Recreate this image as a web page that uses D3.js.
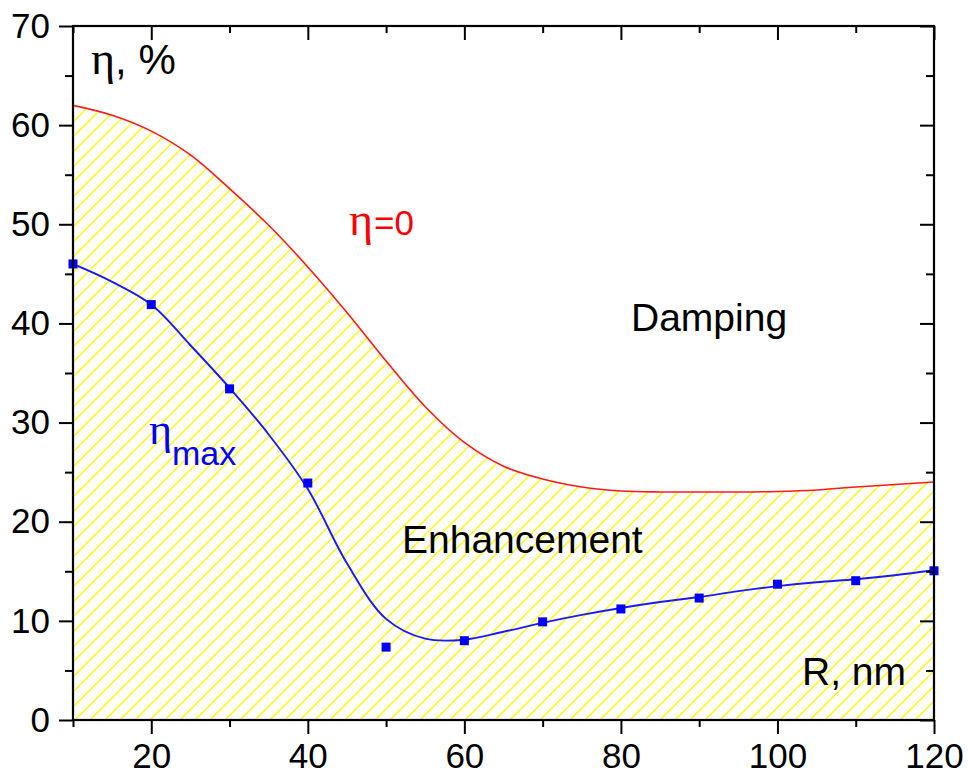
<!DOCTYPE html>
<html>
<head>
<meta charset="utf-8">
<script src="https://cdn.jsdelivr.net/npm/d3@7"></script>
<style>
  html, body { margin: 0; padding: 0; background: #fff; }
  svg { display: block; font-family: "Liberation Sans", Arial, sans-serif; }
</style>
</head>
<body>
<svg id="chart" width="968" height="779"></svg>
<script>
// Particle radius R (nm) sampled every 5 nm for the two boundary curves
const radius = [10, 15, 20, 25, 30, 35, 40, 45, 50, 55, 60, 65, 70, 75, 80, 85, 90, 95, 100, 105, 110, 115, 120];
// η = 0 boundary between enhancement and damping (%)
const etaZero = [62.0, 61.0, 59.4, 57.0, 53.6, 49.9, 45.7, 41.1, 36.2, 31.6, 28.0, 25.6, 24.3, 23.5, 23.1, 23.0, 23.0, 23.0, 23.05, 23.2, 23.5, 23.75, 24.0];
// smooth fit through the η_max points (%)
const etaMaxFit = [46.0, 44.2, 41.9, 37.8, 33.5, 28.8, 23.3, 15.8, 10.2, 8.2, 8.1, 8.9, 9.8, 10.6, 11.3, 11.9, 12.4, 13.0, 13.5, 13.9, 14.2, 14.6, 15.1];
// computed η_max values
const pointRadius = [10, 20, 30, 40, 50, 60, 70, 80, 90, 100, 110, 120];
const etaMaxPoints = [46.0, 41.9, 33.4, 23.9, 7.35, 8.0, 9.9, 11.2, 12.3, 13.7, 14.05, 15.05];

// axis ticks
const xMajor = [20, 40, 60, 80, 100, 120];
const xMinor = [10, 30, 50, 70, 90, 110];
const yMajor = [0, 10, 20, 30, 40, 50, 60, 70];
const yMinor = [5, 15, 25, 35, 45, 55, 65];

const svg = d3.select("#chart");
const plotLeft = 73, plotRight = 934, plotTop = 26, plotBottom = 720;

const x = d3.scaleLinear().domain([10, 120]).range([plotLeft, plotRight]);
const y = d3.scaleLinear().domain([0, 70]).range([plotBottom, plotTop]);

// diagonal hatch fill
const hs = 15;
const defs = svg.append("defs");
const hatch = defs.append("pattern")
  .attr("id", "hatch")
  .attr("patternUnits", "userSpaceOnUse")
  .attr("width", hs).attr("height", hs);
hatch.append("path")
  .attr("d", `M-2,2 L2,-2 M0,${hs} L${hs},0 M${hs - 2},${hs + 2} L${hs + 2},${hs - 2}`)
  .attr("stroke", "#ffff00")
  .attr("stroke-width", 1.4)
  .attr("fill", "none");

defs.append("clipPath").attr("id", "plot-clip")
  .append("rect")
  .attr("x", plotLeft).attr("y", plotTop)
  .attr("width", plotRight - plotLeft).attr("height", plotBottom - plotTop);

const plot = svg.append("g").attr("clip-path", "url(#plot-clip)");

const zeroData = radius.map((r, i) => ({ r, v: etaZero[i] }));
const fitData = radius.map((r, i) => ({ r, v: etaMaxFit[i] }));
const ptData = pointRadius.map((r, i) => ({ r, v: etaMaxPoints[i] }));

const smooth = d3.curveCatmullRom.alpha(0.5);

// enhancement region under the η = 0 curve
plot.append("path")
  .datum(zeroData)
  .attr("fill", "url(#hatch)")
  .attr("d", d3.area()
    .x(d => x(d.r))
    .y0(y(0))
    .y1(d => y(d.v))
    .curve(smooth));

plot.append("path")
  .datum(zeroData)
  .attr("fill", "none")
  .attr("stroke", "#ff1a1a")
  .attr("stroke-width", 1.6)
  .attr("d", d3.line().x(d => x(d.r)).y(d => y(d.v)).curve(smooth));

plot.append("path")
  .datum(fitData)
  .attr("fill", "none")
  .attr("stroke", "#1a1aff")
  .attr("stroke-width", 1.9)
  .attr("d", d3.line().x(d => x(d.r)).y(d => y(d.v)).curve(smooth));

const sq = 9;
svg.append("g").selectAll("rect")
  .data(ptData)
  .join("rect")
  .attr("x", d => x(d.r) - sq / 2)
  .attr("y", d => y(d.v) - sq / 2)
  .attr("width", sq).attr("height", sq)
  .attr("fill", "#0000ff");

// axes
const tickFont = 35;
function styleAxis(g) {
  g.select(".domain").remove();
  g.selectAll(".tick line").attr("stroke", "#000").attr("stroke-width", 2);
  g.selectAll(".tick text").attr("fill", "#000")
    .attr("font-size", tickFont)
    .attr("font-family", "Liberation Sans, Arial, sans-serif");
}

// bottom: majors with labels, minors without
svg.append("g").attr("transform", `translate(0,${plotBottom})`)
  .call(d3.axisBottom(x).tickValues(xMajor).tickSize(14).tickPadding(9).tickFormat(d3.format("d")))
  .call(styleAxis);
svg.append("g").attr("transform", `translate(0,${plotBottom})`)
  .call(d3.axisBottom(x).tickValues(xMinor).tickSize(7).tickFormat(""))
  .call(styleAxis);
// top: inward ticks
svg.append("g").attr("transform", `translate(0,${plotTop})`)
  .call(d3.axisTop(x).tickValues(xMajor).tickSize(-14).tickFormat(""))
  .call(styleAxis);
svg.append("g").attr("transform", `translate(0,${plotTop})`)
  .call(d3.axisTop(x).tickValues(xMinor).tickSize(-7).tickFormat(""))
  .call(styleAxis);
// left
svg.append("g").attr("transform", `translate(${plotLeft},0)`)
  .call(d3.axisLeft(y).tickValues(yMajor).tickSize(14).tickPadding(9).tickFormat(d3.format("d")))
  .call(styleAxis);
svg.append("g").attr("transform", `translate(${plotLeft},0)`)
  .call(d3.axisLeft(y).tickValues(yMinor).tickSize(8).tickFormat(""))
  .call(styleAxis);
// right: inward ticks
svg.append("g").attr("transform", `translate(${plotRight},0)`)
  .call(d3.axisRight(y).tickValues(yMajor).tickSize(-14).tickFormat(""))
  .call(styleAxis);
svg.append("g").attr("transform", `translate(${plotRight},0)`)
  .call(d3.axisRight(y).tickValues(yMinor).tickSize(-8).tickFormat(""))
  .call(styleAxis);

// frame
svg.append("rect")
  .attr("x", plotLeft).attr("y", plotTop)
  .attr("width", plotRight - plotLeft).attr("height", plotBottom - plotTop)
  .attr("fill", "none").attr("stroke", "#000").attr("stroke-width", 2.2);

// labels
const greek = "Liberation Serif, Times New Roman, serif";

const yLab = svg.append("text").attr("x", 91).attr("y", 74).attr("font-size", 42).attr("fill", "#000");
yLab.append("tspan").attr("font-family", greek).attr("font-size", 46).text("η");
yLab.append("tspan").text(", %");

svg.append("text").attr("x", 802).attr("y", 685).attr("font-size", 39).attr("fill", "#000").text("R, nm");

svg.append("text").attr("x", 631).attr("y", 331).attr("font-size", 39).attr("fill", "#000").text("Damping");
svg.append("text").attr("x", 402).attr("y", 553).attr("font-size", 39).attr("fill", "#000").text("Enhancement");

const zLab = svg.append("text").attr("x", 349).attr("y", 235).attr("font-size", 35).attr("fill", "#ff0000");
zLab.append("tspan").attr("font-family", greek).attr("font-size", 46).text("η");
zLab.append("tspan").attr("dx", 1).text("=0");

const mLab = svg.append("text").attr("x", 149).attr("y", 444).attr("fill", "#0000ff");
mLab.append("tspan").attr("font-family", greek).attr("font-size", 44).text("η");
mLab.append("tspan").attr("font-size", 34).attr("dy", 21).text("max");
</script>
</body>
</html>
